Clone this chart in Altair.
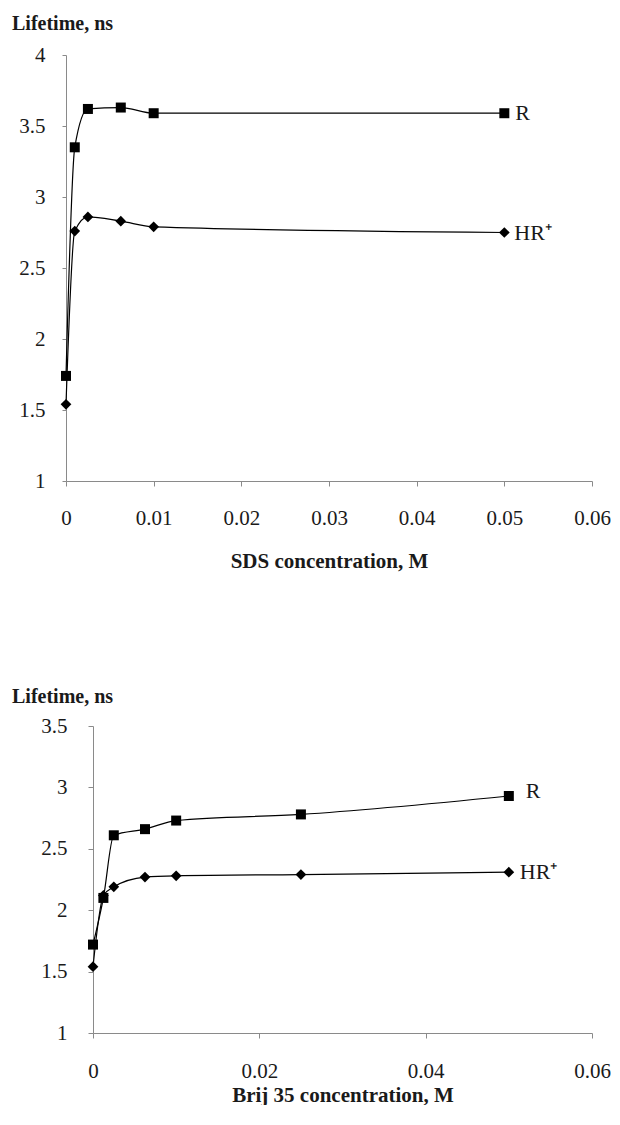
import altair as alt
import pandas as pd

# ---- data ----
series_names = ["R", "HR⁺"]

sds_x = [0, 0.001, 0.0025, 0.00625, 0.01, 0.05]
sds_R = [1.74, 3.35, 3.62, 3.63, 3.59, 3.59]
sds_HR = [1.54, 2.76, 2.86, 2.83, 2.79, 2.75]

brij_x = [0, 0.00125, 0.0025, 0.00625, 0.01, 0.025, 0.05]
brij_R = [1.72, 2.10, 2.61, 2.66, 2.73, 2.78, 2.93]
brij_HR = [1.54, 2.12, 2.19, 2.27, 2.28, 2.29, 2.31]

sds_xticks = [0, 0.01, 0.02, 0.03, 0.04, 0.05, 0.06]
sds_yticks = [1, 1.5, 2, 2.5, 3, 3.5, 4]
brij_xticks = [0, 0.02, 0.04, 0.06]
brij_yticks = [1, 1.5, 2, 2.5, 3, 3.5]

FONT = "Liberation Serif"
INK = "#1a1a1a"
AXIS_GREY = "#8a8a8a"


def make_df(xs, r, hr):
    rows = []
    for name, vals in zip(series_names, [r, hr]):
        for x, y in zip(xs, vals):
            rows.append({"series": name, "x": x, "y": y})
    return pd.DataFrame(rows)


def panel(df, xticks, yticks, ydom, xtitle, w, h, xrange_left, ylab_pad, ytick,
          title_offset, x_lab_pad, x_title_pad, r_dx, r_dy, hr_dx):
    xenc = alt.X(
        "x:Q",
        scale=alt.Scale(domain=[0, 0.06], nice=False, zero=False, range=[xrange_left, w]),
        axis=alt.Axis(
            values=xticks, format="~g", grid=False,
            domainColor=AXIS_GREY, tickColor=AXIS_GREY, tickSize=5,
            labelFont=FONT, labelFontSize=21, labelColor=INK, labelPadding=x_lab_pad,
            labelFlush=False,
            title=xtitle, titleFont=FONT, titleFontSize=21, titleFontWeight="bold",
            titleColor=INK, titlePadding=x_title_pad,
        ),
    )
    yenc = alt.Y(
        "y:Q",
        scale=alt.Scale(domain=ydom, nice=False, zero=False),
        axis=alt.Axis(
            values=yticks, format="~g", grid=False, offset=-xrange_left,
            domainColor=AXIS_GREY, tickColor=AXIS_GREY, tickSize=ytick,
            labelFont=FONT, labelFontSize=21, labelColor=INK, labelPadding=ylab_pad,
            labelFlush=False, title=None,
        ),
    )
    base = alt.Chart(df)
    line = base.mark_line(interpolate="monotone", color="black", strokeWidth=1.2).encode(
        x=xenc, y=yenc, detail="series:N"
    )
    pts = base.mark_point(filled=True, color="black", opacity=1).encode(
        x=xenc, y=yenc,
        shape=alt.Shape("series:N", scale=alt.Scale(domain=series_names, range=["square", "diamond"]), legend=None),
        size=alt.Size("series:N", scale=alt.Scale(domain=series_names, range=[100, 115]), legend=None),
    )
    last = df.groupby("series", sort=False).tail(1)
    lab_r = alt.Chart(last[last["series"] == "R"]).mark_text(
        align="left", baseline="middle", dx=r_dx, dy=r_dy, font=FONT, fontSize=22, color=INK
    ).encode(x=xenc, y=yenc, text="series:N")
    lab_hr = alt.Chart(last[last["series"] == "HR⁺"]).mark_text(
        align="left", baseline="middle", dx=hr_dx, dy=0, font=FONT, fontSize=22, color=INK
    ).encode(x=xenc, y=yenc, text="series:N")
    return alt.layer(line, pts, lab_r, lab_hr).properties(
        width=w, height=h,
        title=alt.TitleParams(
            "Lifetime, ns", anchor="start", frame="group", orient="top",
            font=FONT, fontSize=20, fontWeight="bold", color=INK,
            dx=-54, offset=title_offset, baseline="alphabetic",
        ),
    )


top = panel(make_df(sds_x, sds_R, sds_HR), sds_xticks, sds_yticks, [1, 4],
            "SDS concentration, M", 526, 426, 0, 17, 4, -6, 21, 22, 11, 0, 10)
bottom = panel(make_df(brij_x, brij_R, brij_HR), brij_xticks, brij_yticks, [1, 3.5],
               "Brij 35 concentration, M", 526, 307, 27, 21, 5, -8, 22, 3, 17, -5, 11)

chart = alt.concat(top, bottom, columns=1).properties(
    spacing=116,
    padding={"left": 4, "top": 6, "right": 0, "bottom": 0},
).configure_view(stroke=None)

chart.save("out.html", embed_options={"renderer": "svg", "actions": False})
